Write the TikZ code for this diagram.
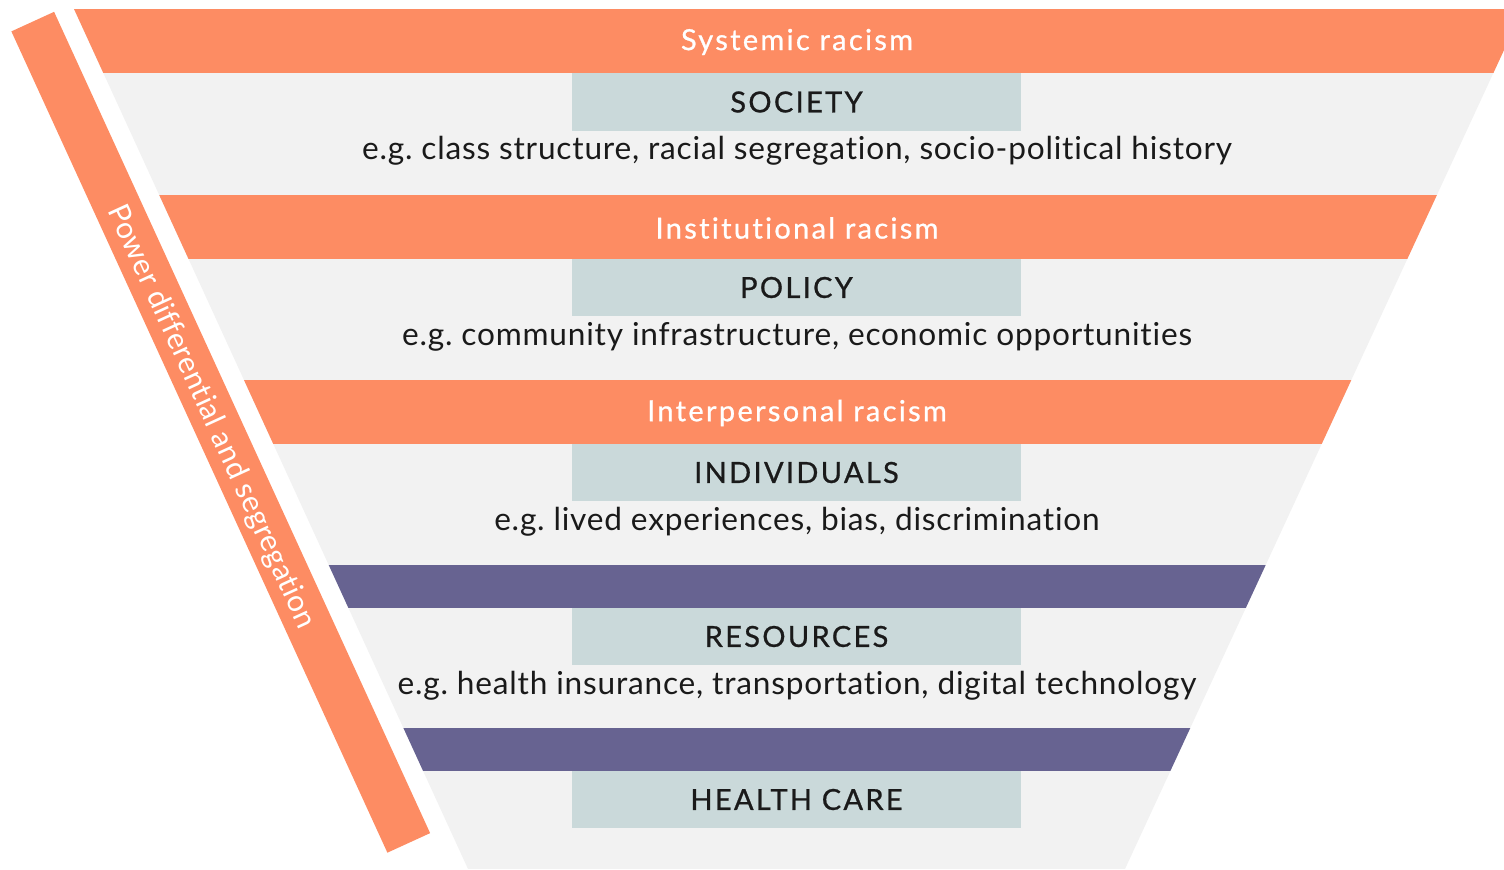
\documentclass[tikz,border=0pt]{standalone}
\usepackage{fontspec}
\setmainfont{Lato}[Ligatures=NoCommon]
\newfontfamily\titlefont{Lato}[Ligatures=NoCommon,LetterSpace=8,FakeBold=0.8]
\newfontfamily\examplefont{Lato}[Ligatures=NoCommon,LetterSpace=2.5]
\newfontfamily\barfont{Lato}[Ligatures=NoCommon,LetterSpace=1.5]
\definecolor{racismorange}{HTML}{FD8C63}
\definecolor{tierpurple}{HTML}{676391}
\definecolor{levelgray}{HTML}{CAD9DA}
\definecolor{funnelgray}{HTML}{F2F2F2}
\definecolor{inkdark}{HTML}{1A1A1A}
\frenchspacing

\begin{document}
\begin{tikzpicture}[x=0.02cm,y=-0.02cm,
    bandlabel/.style={text=white,font=\titlefont\fontsize{16.5}{20}\selectfont},
    level/.style={fill=levelgray,minimum width=8.98cm,minimum height=1.15cm,
      inner sep=0pt,text=inkdark,font=\titlefont\fontsize{16.5}{20}\selectfont},
    example/.style={text=inkdark,inner sep=0pt,font=\examplefont\fontsize{18}{21}\selectfont},
    powerbar/.style={fill=racismorange,minimum width=18.07cm,minimum height=0.94cm,
      inner sep=0pt,rotate=-65.4}]
  \useasboundingbox (0,0) rectangle (1504,869);

  % funnel body with the coloured bands, cut to the trapezoid
  \begin{scope}
    \clip (74,9) -- (1523,9) -- (1125,869) -- (468,869) -- cycle;
    \fill[funnelgray] (0,0) rectangle (1504,869);
    \foreach \y/\txt [count=\i] in {9/Systemic racism,195/Institutional racism,380/Interpersonal racism} {
      \fill[racismorange] (0,\y) rectangle (1504,\y+64);
      \node[bandlabel] (band\i) at (797,\y+33) {\txt};
    }
    \foreach \y in {565,728}
      \fill[tierpurple] (0,\y) rectangle (1504,\y+43);
  \end{scope}

  % levels and their examples
  \foreach \y/\name/\eg [count=\i] in {
      102/SOCIETY/{e.g. class structure, racial segregation, socio-political history},
      287.5/POLICY/{e.g. community infrastructure, economic opportunities},
      472.5/INDIVIDUALS/{e.g. lived experiences, bias, discrimination},
      636.5/RESOURCES/{e.g. health insurance, transportation, digital technology}} {
    \node[level] (level\i) at (796.5,\y) {\name};
    \node[example] (eg\i) at (797,\y+49) {\eg};
  }
  \node[level] (level5) at (796.5,799.5) {HEALTH CARE};

  % slanted bar on the left
  \node[powerbar] (power) at (220.75,432.25) {};
  \node[text=white,rotate=-65.4,font=\barfont\fontsize{17}{20}\selectfont] (powertext) at (211,417)
    {Power differential and segregation};
\end{tikzpicture}
\end{document}
